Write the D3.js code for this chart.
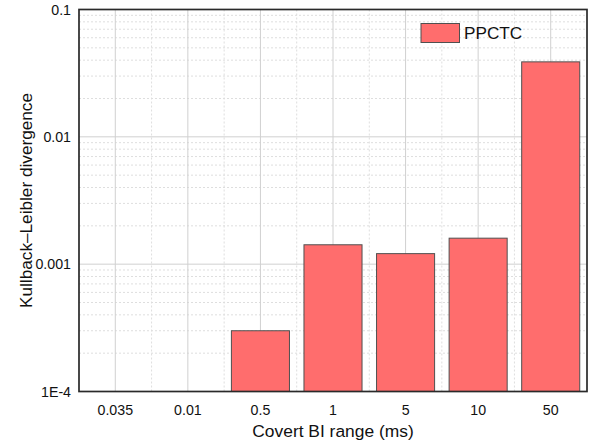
<!DOCTYPE html>
<html><head><meta charset="utf-8">
<script src="https://cdn.jsdelivr.net/npm/d3@7"></script>
<style>
html,body{margin:0;padding:0;background:#fff;}
text{font-family:"Liberation Sans",Arial,sans-serif;fill:#111;}
</style></head>
<body><svg id="c" width="595" height="446"></svg>
<script>
const categories = ["0.035","0.01","0.5","1","5","10","50"];
const values = [null, null, 0.0003, 0.00142, 0.00121, 0.0016, 0.0388];
const yTickValues = [1e-4, 1e-3, 1e-2, 1e-1];
const yTickLabels = ["1E-4","0.001","0.01","0.1"];
const seriesName = "PPCTC";

const svg = d3.select("#c");
const m = {l:79, r:8, t:9.5, b:54.5};
const W = 595, H = 446;
const xc = d3.scaleBand().domain(categories).range([m.l, W - m.r]);
const y = d3.scaleLog().domain([1e-4, 0.1]).range([H - m.b, m.t]);

const grid = svg.append("g");
const minor = [];
for (let e = -4; e < -1; e++) for (let k = 2; k <= 9; k++) minor.push(k * Math.pow(10, e));
grid.selectAll("line.hm").data(minor).join("line")
  .attr("x1", m.l).attr("x2", W - m.r)
  .attr("y1", d => y(d)).attr("y2", d => y(d))
  .attr("stroke", "#dedede").attr("stroke-width", 1).attr("stroke-dasharray", "2,2");
grid.selectAll("line.vm").data(categories.slice(1)).join("line")
  .attr("x1", d => xc(d)).attr("x2", d => xc(d))
  .attr("y1", m.t).attr("y2", H - m.b)
  .attr("stroke", "#dedede").attr("stroke-width", 1).attr("stroke-dasharray", "2,2");
grid.selectAll("line.hM").data(yTickValues).join("line")
  .attr("x1", m.l).attr("x2", W - m.r)
  .attr("y1", d => y(d)).attr("y2", d => y(d))
  .attr("stroke", "#d0d0d0").attr("stroke-width", 1);
grid.selectAll("line.vM").data(categories).join("line")
  .attr("x1", d => xc(d) + xc.bandwidth()/2).attr("x2", d => xc(d) + xc.bandwidth()/2)
  .attr("y1", m.t).attr("y2", H - m.b)
  .attr("stroke", "#d0d0d0").attr("stroke-width", 1);

const data = categories.map((c, i) => ({c, v: values[i]})).filter(d => d.v != null);
svg.append("g").selectAll("rect").data(data).join("rect")
  .attr("x", d => xc(d.c) + xc.bandwidth()/2 - xc.bandwidth()*0.4)
  .attr("width", xc.bandwidth()*0.8)
  .attr("y", d => y(d.v))
  .attr("height", d => y(1e-4) - y(d.v))
  .attr("fill", "#ff6d6d").attr("stroke", "#505050").attr("stroke-width", 1);

svg.append("rect").attr("x", m.l).attr("y", m.t).attr("width", W - m.r - m.l).attr("height", H - m.b - m.t)
  .attr("fill", "none").attr("stroke", "#2a2a2a").attr("stroke-width", 1.7);

const yAxis = d3.axisLeft(y).tickValues(yTickValues).tickFormat((d,i) => yTickLabels[i]).tickSize(0).tickPadding(8);
const ya = svg.append("g").attr("transform", `translate(${m.l},0)`).call(yAxis);
ya.select(".domain").remove();
ya.selectAll("text").attr("font-size", 14.2).attr("fill", "#111").style("font-family", '"Liberation Sans",Arial,sans-serif');

const xAxis = d3.axisBottom(xc).tickSize(0).tickPadding(13);
const xa = svg.append("g").attr("transform", `translate(0,${H - m.b})`).call(xAxis);
xa.select(".domain").remove();
xa.selectAll("text").attr("font-size", 14.2).attr("fill", "#111").style("font-family", '"Liberation Sans",Arial,sans-serif');

svg.append("text").attr("x", (m.l + W - m.r)/2).attr("y", 437).attr("text-anchor", "middle")
  .attr("font-size", 17.4).text("Covert BI range (ms)");
svg.append("text").attr("transform", `translate(32,${(m.t + H - m.b)/2}) rotate(-90)`).attr("text-anchor", "middle")
  .attr("font-size", 17.2).text("Kullback–Leibler divergence");

const lg = svg.append("g");
lg.append("rect").attr("x", 421).attr("y", 23.5).attr("width", 38.5).attr("height", 19)
  .attr("fill", "#ff6d6d").attr("stroke", "#505050").attr("stroke-width", 1);
lg.append("text").attr("x", 464).attr("y", 39).attr("font-size", 17.2).text(seriesName);
</script></body></html>
